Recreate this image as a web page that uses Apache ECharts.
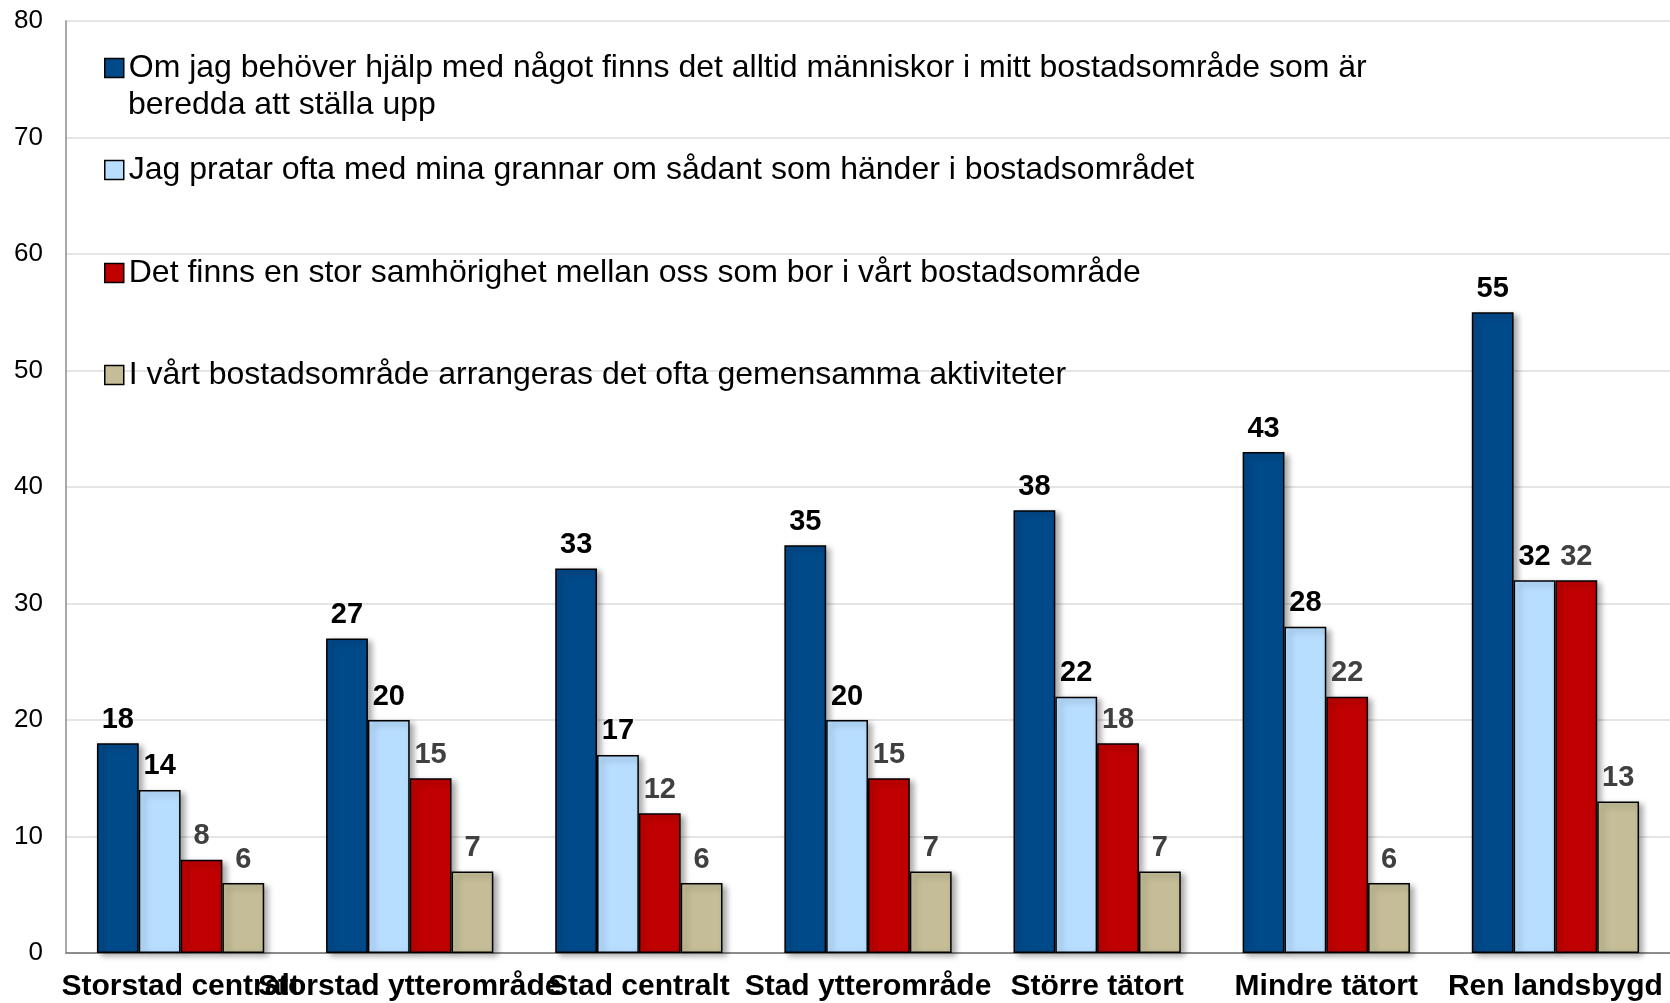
<!DOCTYPE html>
<html>
<head>
<meta charset="utf-8">
<script src="https://cdn.jsdelivr.net/npm/echarts@6/dist/echarts.min.js"></script>
<style>
  html, body { margin: 0; padding: 0; background: #fff; }
  #main { width: 1670px; height: 1003px; }
</style>
</head>
<body>
<div id="main"></div>
<script>
  // kategorier och värden (%)
  const categories = ['Storstad centralt', 'Storstad ytterområde', 'Stad centralt', 'Stad ytterområde', 'Större tätort', 'Mindre tätort', 'Ren landsbygd']
  const seriesNames = [
    'Om jag behöver hjälp med något finns det alltid människor i mitt bostadsområde som är\nberedda att ställa upp',
    'Jag pratar ofta med mina grannar om sådant som händer i bostadsområdet',
    'Det finns en stor samhörighet mellan oss som bor i vårt bostadsområde',
    'I vårt bostadsområde arrangeras det ofta gemensamma aktiviteter'
  ]
  const hjalp = [18, 27, 33, 35, 38, 43, 55]
  const pratar = [14, 20, 17, 20, 22, 28, 32]
  const samhorighet = [8, 15, 12, 15, 18, 22, 32]
  const aktiviteter = [6, 7, 6, 7, 7, 6, 13]
  const yTicks = [0, 10, 20, 30, 40, 50, 60, 70, 80]

  const colors = ['#004A8A', '#B7DDFF', '#C00000', '#C4BD97']
  const labelColors = ['#000000', '#000000', '#404040', '#404040']
  const values = [hjalp, pratar, samhorighet, aktiviteter]
  const legendTops = [47, 149, 252, 354]

  const font = 'Liberation Sans, Arial, sans-serif'

  const seriesData = values.map((data, i) => ({
    name: seriesNames[i],
    type: 'bar',
    barGap: '0%',
    barCategoryGap: '27%',
    itemStyle: {
      color: colors[i],
      borderColor: '#000',
      borderWidth: 1.5,
      shadowBlur: 6,
      shadowOffsetX: 4,
      shadowOffsetY: 3,
      shadowColor: 'rgba(0,0,0,0.35)'
    },
    label: {
      show: true,
      position: 'top',
      distance: 9,
      color: labelColors[i],
      fontFamily: font,
      fontWeight: 'bold',
      fontSize: 29
    },
    data: data
  }))

  // en legend per serie så att varje rad kan placeras exakt
  // första raden i legenden, andra raden läggs som graphic-text nedan
  const legends = seriesNames.map((name, i) => ({
    data: [name],
    left: 99,
    top: legendTops[i],
    orient: 'vertical',
    itemWidth: 19,
    itemHeight: 19,
    icon: 'rect',
    itemStyle: { borderColor: '#000', borderWidth: 1.5, shadowBlur: 0 },
    formatter: n => n.split('\n')[0],
    textStyle: {
      fontFamily: font,
      fontSize: 32,
      color: '#000'
    }
  }))

  let myChart = echarts.init(document.getElementById('main'))
  let option = {
    animation: false,
    legend: legends,
    graphic: [{
      type: 'text',
      left: 128,
      top: 89,
      style: {
        text: seriesNames[0].split('\n')[1],
        font: '32px ' + font,
        fill: '#000'
      }
    }],
    grid: {
      left: 66,
      right: 0,
      top: 21,
      bottom: 50,
      containLabel: false
    },
    xAxis: {
      type: 'category',
      data: categories,
      axisTick: { show: false },
      axisLine: { lineStyle: { color: '#8C8C8C', width: 2 } },
      axisLabel: {
        interval: 0,
        margin: 19,
        color: '#000',
        fontFamily: font,
        fontWeight: 'bold',
        fontSize: 30
      }
    },
    yAxis: {
      type: 'value',
      min: yTicks[0],
      max: yTicks[yTicks.length - 1],
      interval: 10,
      axisLine: { show: true, lineStyle: { color: '#8C8C8C', width: 1.5 } },
      axisTick: { show: false },
      axisLabel: {
        margin: 23,
        color: '#000',
        fontFamily: font,
        fontSize: 26
      },
      splitLine: { lineStyle: { color: '#DDDDDD', width: 1.5 } }
    },
    series: seriesData
  }
  myChart.setOption(option)
</script>
</body>
</html>
